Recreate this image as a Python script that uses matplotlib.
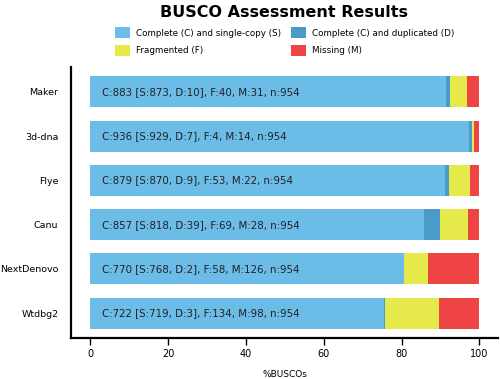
import matplotlib
matplotlib.use("Agg")
import matplotlib.pyplot as plt
from matplotlib.patches import Patch
import numpy as np

assemblies = ["Maker", "3d-dna", "Flye", "Canu", "NextDenovo", "Wtdbg2"]
single = [873, 929, 870, 818, 768, 719]
duplicated = [10, 7, 9, 39, 2, 3]
fragmented = [40, 4, 53, 69, 58, 134]
missing = [31, 14, 22, 28, 126, 98]
total = [954, 954, 954, 954, 954, 954]

colors = ["#6CBCE8", "#4A9ACA", "#E5EA4A", "#EE4444"]
labels = ["Complete (C) and single-copy (S)", "Complete (C) and duplicated (D)",
          "Fragmented (F)", "Missing (M)"]

fig = plt.figure(figsize=(5.0, 3.79), dpi=100)
ax = fig.add_axes([0.142, 0.108, 0.854, 0.715])

y = np.arange(len(assemblies))[::-1]
series = [single, duplicated, fragmented, missing]
left = np.zeros(len(assemblies))
for vals, col in zip(series, colors):
    pct = np.array(vals) / np.array(total) * 100
    ax.barh(y, pct, left=left, height=0.7, color=col, edgecolor="none")
    left += pct

for i, name in enumerate(assemblies):
    c = single[i] + duplicated[i]
    txt = f"C:{c} [S:{single[i]}, D:{duplicated[i]}], F:{fragmented[i]}, M:{missing[i]}, n:{total[i]}"
    ax.text(3, y[i], txt, va="center", ha="left", fontsize=7.4, color="#222222")

ax.set_xlim(-5, 104.8)
ax.set_ylim(-0.56, 5.56)
ax.set_yticks(y)
ax.set_yticklabels(assemblies, fontsize=6.8)
ax.tick_params(axis="y", length=0, pad=9)
ax.set_xticks([0, 20, 40, 60, 80, 100])
ax.tick_params(axis="x", labelsize=7, length=5, width=1, pad=3)
for s in ["top", "right"]:
    ax.spines[s].set_visible(False)
for s in ["left", "bottom"]:
    ax.spines[s].set_linewidth(1.6)
ax.set_xlabel("%BUSCOs", fontsize=6.5, labelpad=8)

fig.text(0.568, 0.968, "BUSCO Assessment Results", ha="center", va="center",
         fontsize=11.5, fontweight="bold")
order = [0, 2, 1, 3]
handles = [Patch(facecolor=colors[k], edgecolor="none") for k in order]
fig.legend(handles, [labels[k] for k in order], ncol=2, loc="center",
           bbox_to_anchor=(0.57, 0.89),
           frameon=False, fontsize=6.3, handlelength=1.7, handleheight=1.6,
           columnspacing=1.1, handletextpad=0.7, labelspacing=0.75)

fig.savefig("out.png", dpi=100)
